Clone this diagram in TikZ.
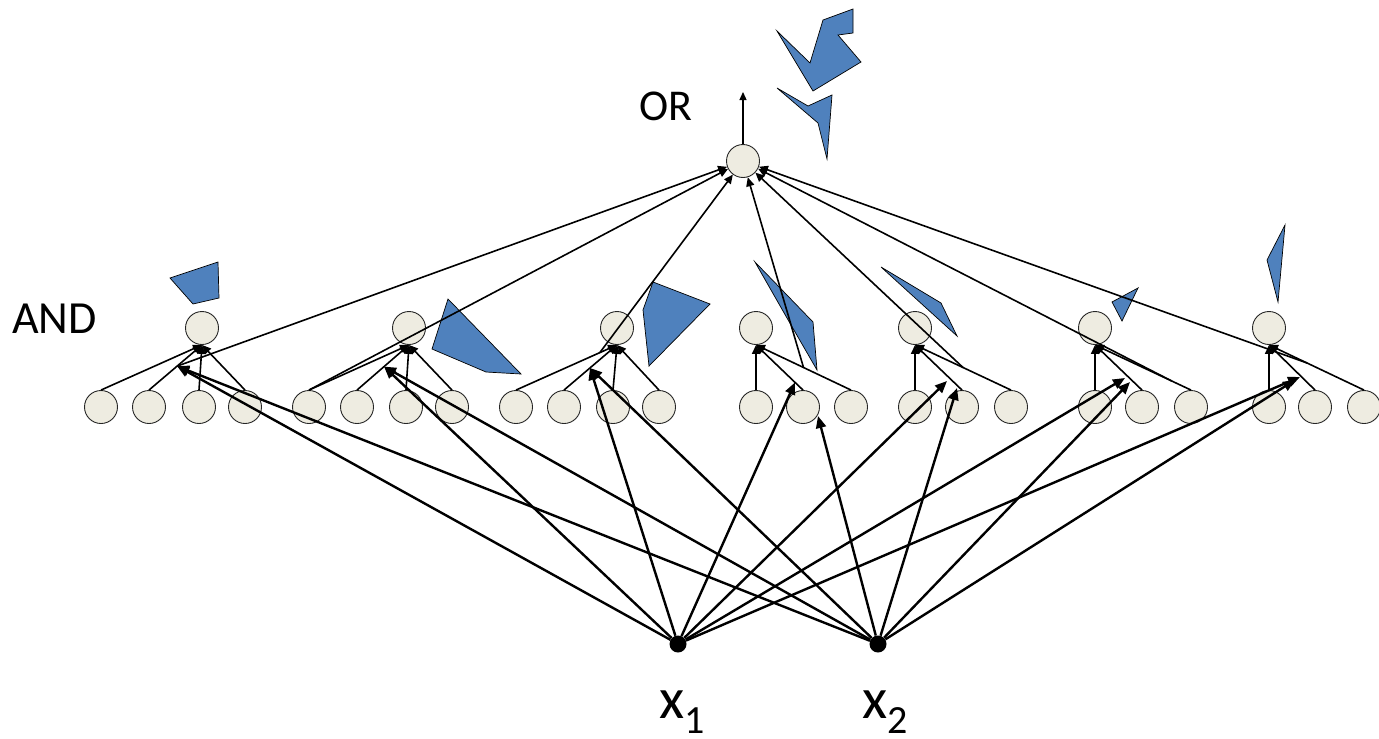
\documentclass[tikz,border=0pt]{standalone}
\usepackage{fontspec}
\setmainfont{Carlito}
\usetikzlibrary{arrows.meta,calc}
\definecolor{nodefill}{HTML}{EEECE1}
\definecolor{shapeblue}{HTML}{4F81BD}
\begin{document}
\begin{tikzpicture}[x=1pt,y=-1pt,
  unit/.style={circle,draw=black!85,line width=0.9pt,fill=nodefill,minimum size=33pt,inner sep=0pt},
  inp/.style={circle,fill=black,minimum size=17pt,inner sep=0pt},
  link/.style={line width=1.6pt,-{Triangle[length=9pt,width=8pt]}},
  feed/.style={line width=2.4pt,-{Triangle[length=12pt,width=10pt]}},
  outarrow/.style={line width=1.3pt,-{Triangle[length=8pt,width=7pt]}},
  blob/.style={fill=shapeblue,draw=black,line width=0.7pt,line join=miter},
  lbl/.style={inner sep=0pt,anchor=base west}
]
\useasboundingbox (0,0) rectangle (1379,739);

% blue shapes
\draw[blob] (170,278) -- (218,262) -- (219,298) -- (193,304) -- cycle;
\draw[blob] (448,299) -- (521,374) -- (486,372) -- (432,349) -- cycle;
\draw[blob] (653,282) -- (710,304) -- (649,366) -- (643,310) -- cycle;
\draw[blob] (755,262) -- (813,322) -- (817,370) -- (791,325) -- cycle;
\draw[blob] (881,267) -- (941,303) -- (957,336) -- cycle;
\draw[blob] (1112,302) -- (1138,288) -- (1122,321) -- cycle;
\draw[blob] (1285,225) -- (1278,302) -- (1267,260) -- cycle;
\draw[blob] (777,31) -- (810,63) -- (823,20) -- (853,9) -- (853,33) -- (838,35) -- (861,62) -- (813,91) -- cycle;
\draw[blob] (777,88) -- (808,106) -- (832,95) -- (827,159) -- (818,123) -- cycle;

% OR node
\node[unit] (or) at (743,161) {};
\coordinate (top) at (743,92);

% AND nodes
\node[unit] (a1) at (202,328) {};
\node[unit] (a2) at (409,328) {};
\node[unit] (a3) at (617,328) {};
\node[unit] (a4) at (756,328) {};
\node[unit] (a5) at (915,328) {};
\node[unit] (a6) at (1095,328) {};
\node[unit] (a7) at (1269,328) {};

% leaves
\node[unit] (l11) at (101,407) {};
\node[unit] (l12) at (149,407) {};
\node[unit] (l13) at (199,407) {};
\node[unit] (l14) at (245,407) {};
\node[unit] (l21) at (309,407) {};
\node[unit] (l22) at (357,407) {};
\node[unit] (l23) at (406,407) {};
\node[unit] (l24) at (452,407) {};
\node[unit] (l31) at (516,407) {};
\node[unit] (l32) at (564,407) {};
\node[unit] (l33) at (613,407) {};
\node[unit] (l34) at (659,407) {};
\node[unit] (l41) at (756,407) {};
\node[unit] (l42) at (803,407) {};
\node[unit] (l43) at (851,407) {};
\node[unit] (l51) at (915,407) {};
\node[unit] (l52) at (962,407) {};
\node[unit] (l53) at (1011,407) {};
\node[unit] (l61) at (1095,407) {};
\node[unit] (l62) at (1142,407) {};
\node[unit] (l63) at (1191,407) {};
\node[unit] (l71) at (1269,407) {};
\node[unit] (l72) at (1315,407) {};
\node[unit] (l73) at (1364,407) {};

% inputs
\node[inp] (x1) at (678,644) {};
\node[inp] (x2) at (878,644) {};

% labels
\node[lbl] (andlbl) at (12,333) {\fontsize{46}{50}\selectfont AND};
\node[lbl] (orlbl) at (639,120) {\fontsize{44}{48}\selectfont OR};
\node[lbl] (x1lbl) at (659,718) {\fontsize{58}{60}\selectfont x\raisebox{-15pt}{\fontsize{40}{42}\selectfont 1}};
\node[lbl] (x2lbl) at (862,718) {\fontsize{58}{60}\selectfont x\raisebox{-15pt}{\fontsize{40}{42}\selectfont 2}};

% leaf -> AND
\foreach \l in {l11,l12,l13,l14} \draw[link] (\l.north) -- (a1.south);
\foreach \l in {l21,l22,l23,l24} \draw[link] (\l.north) -- (a2.south);
\foreach \l in {l31,l32,l33,l34} \draw[link] (\l.north) -- (a3.south);
\foreach \l in {l41,l42,l43} \draw[link] (\l.north) -- (a4.south);
\foreach \l in {l51,l52,l53} \draw[link] (\l.north) -- (a5.south);
\foreach \l in {l61,l62,l63} \draw[link] (\l.north) -- (a6.south);
\foreach \l in {l71,l72,l73} \draw[link] (\l.north) -- (a7.south);

% targets of the inputs
\coordinate (t1) at ($(l12.north)!0.53!(a1.south)$);
\coordinate (t2) at ($(l22.north)!0.52!(a2.south)$);
\coordinate (t3) at ($(l32.north)!0.49!(a3.south)$);
\coordinate (t4a) at ($(l42.north)!0.17!(a4.south)$);
\coordinate (t4b) at (818,416);
\coordinate (t5a) at (947,381);
\coordinate (t5b) at (957,388);
\coordinate (t6a) at (1125,378);
\coordinate (t6b) at (1130,382);
\coordinate (t7a) at (1300,377);
\coordinate (t7b) at (1295,380);

% sources of the OR links
\coordinate (o3) at ($(l31.north)!0.83!(a3.south)$);
\coordinate (o4) at ($(l43.north)!0.5!(a4.south)$);
\coordinate (o5) at ($(l53.north)!0.5!(a5.south)$);
\coordinate (o6) at ($(l63.north)!0.2!(a6.south)$);
\coordinate (o7) at ($(l73.north)!0.6!(a7.south)$);

% OR links
\draw[link] (t1) -- (or);
\draw[link] (l21.north) -- (or);
\draw[link] (o3) -- (or);
\draw[link] (o4) -- (or);
\draw[link] (o5) -- (or);
\draw[link] (o6) -- (or);
\draw[link] (o7) -- (or);
\draw[outarrow] (or) -- (top);

% input arrows
\draw[feed] (x1) -- (t1);
\draw[feed] (x2) -- (t1);
\draw[feed] (x1) -- (t2);
\draw[feed] (x2) -- (t2);
\draw[feed] (x1) -- (t3);
\draw[feed] (x2) -- (t3);
\draw[feed] (x1) -- (t4a);
\draw[feed] (x2) -- (t4b);
\draw[feed] (x1) -- (t5a);
\draw[feed] (x2) -- (t5b);
\draw[feed] (x1) -- (t6a);
\draw[feed] (x2) -- (t6b);
\draw[feed] (x1) -- (t7a);
\draw[feed] (x2) -- (t7b);
\end{tikzpicture}
\end{document}
